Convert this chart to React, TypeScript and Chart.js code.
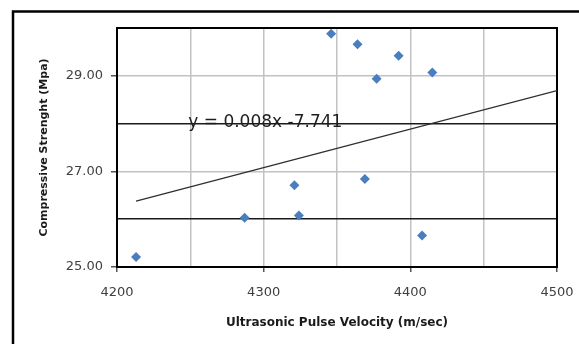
import React, { useEffect, useRef } from "react";
import { Chart, registerables } from "chart.js";

Chart.register(...registerables);

// Data
const velocity = [4213, 4287, 4324, 4321, 4369, 4408, 4346, 4364, 4392, 4377, 4415];
const strength = [25.21, 26.03, 26.08, 26.71, 26.84, 25.66, 29.88, 29.66, 29.42, 28.94, 29.07];
const trendX = [4213, 4500];
const trendY = [26.38, 28.69];
const equationText = "y = 0.008x -7.741";
const equationAt = { x: 4248.6, y: 27.93 };
const xTitle = "Ultrasonic Pulse Velocity (m/sec)";
const yTitle = "Compressive Strenght (Mpa)";
const darkGridValues = [26, 28];

const W = 579;
const H = 344;

const framePlugin = {
  id: "frame",
  beforeDraw(chart: any) {
    const ctx = chart.ctx;
    ctx.save();
    ctx.fillStyle = "#ffffff";
    ctx.fillRect(0, 0, chart.width, chart.height);
    ctx.strokeStyle = "#000000";
    ctx.lineWidth = 2.5;
    ctx.strokeRect(13, 11.5, chart.width + 40, chart.height + 40);
    ctx.restore();
  },
  beforeDatasetsDraw(chart: any) {
    const { ctx, chartArea } = chart;
    ctx.save();
    ctx.strokeStyle = "#000000";
    ctx.lineWidth = 2;
    ctx.strokeRect(chartArea.left, chartArea.top, chartArea.right - chartArea.left, chartArea.bottom - chartArea.top);
    ctx.restore();
  },
  afterDatasetsDraw(chart: any) {
    const { ctx, scales } = chart;
    const px = scales.x.getPixelForValue(equationAt.x);
    const py = scales.y.getPixelForValue(equationAt.y);
    ctx.save();
    ctx.font = "17px 'DejaVu Sans'";
    ctx.fillStyle = "#1e1e1e";
    ctx.textAlign = "left";
    ctx.textBaseline = "alphabetic";
    ctx.fillText(equationText, px, py);
    ctx.restore();
  },
};

export default function App() {
  const ref = useRef<HTMLCanvasElement | null>(null);

  useEffect(() => {
    if (!ref.current) return;
    const points = velocity.map((v, i) => ({ x: v, y: strength[i] }));
    const trend = trendX.map((v, i) => ({ x: v, y: trendY[i] }));
    const chart = new Chart(ref.current, {
      type: "scatter",
      data: {
        datasets: [
          {
            type: "line",
            data: trend,
            borderColor: "#2e2e2e",
            borderWidth: 1.3,
            pointRadius: 0,
            fill: false,
          } as any,
          {
            data: points,
            pointStyle: "rectRot",
            pointRadius: 5,
            pointHoverRadius: 5,
            backgroundColor: "#4a7ebf",
            borderColor: "#4a7ebf",
            borderWidth: 0,
          },
        ],
      },
      options: {
        responsive: false,
        animation: false,
        devicePixelRatio: 1,
        layout: { padding: { left: 0, top: 28, right: 22, bottom: 0 } },
        plugins: { legend: { display: false }, tooltip: { enabled: false } },
        scales: {
          x: {
            type: "linear",
            min: 4200,
            max: 4500,
            afterFit: (s: any) => {
              s.height = H - 267;
              s.paddingLeft = 0;
              s.paddingRight = 0;
              s.paddingTop = 0;
              s.paddingBottom = 0;
            },
            ticks: {
              stepSize: 50,
              padding: 13,
              font: { family: "'DejaVu Sans'", size: 13 },
              color: "#404040",
              maxRotation: 0,
              autoSkip: false,
              callback: (v: any) => (Number(v) % 100 === 0 ? String(v) : ""),
            },
            grid: {
              color: (c: any) => {
                const v = c.tick ? c.tick.value : 0;
                return v === 4200 || v === 4500 ? "rgba(0,0,0,0)" : "#c2c2c2";
              },
              lineWidth: 1.5,
              tickLength: 5,
              tickColor: (c: any) => {
                const v = c.tick ? c.tick.value : 0;
                return v % 100 === 0 ? "#555555" : "rgba(0,0,0,0)";
              },
            },
            border: { display: false },
            title: {
              display: true,
              text: xTitle,
              font: { family: "'DejaVu Sans'", size: 12, weight: "bold" },
              color: "#1a1a1a",
              padding: { top: 0, bottom: 14 },
            },
          },
          y: {
            type: "linear",
            min: 25,
            max: 30,
            afterFit: (s: any) => {
              s.width = 117;
              s.paddingLeft = 0;
              s.paddingRight = 0;
              s.paddingTop = 0;
              s.paddingBottom = 0;
            },
            ticks: {
              stepSize: 1,
              padding: 8,
              font: { family: "'DejaVu Sans'", size: 13 },
              color: "#404040",
              autoSkip: false,
              callback: (v: any) => (Number(v) % 2 === 1 ? Number(v).toFixed(2) : ""),
            },
            grid: {
              color: (c: any) => {
                const v = c.tick ? c.tick.value : 0;
                if (v === 25 || v === 30) return "rgba(0,0,0,0)";
                return darkGridValues.includes(v) ? "#1a1a1a" : "#c2c2c2";
              },
              lineWidth: 1.5,
              tickLength: 6,
              tickColor: (c: any) => {
                const v = c.tick ? c.tick.value : 0;
                return v % 2 === 1 ? "#555555" : "rgba(0,0,0,0)";
              },
            },
            border: { display: false },
            title: {
              display: true,
              text: yTitle,
              font: { family: "'DejaVu Sans'", size: 11, weight: "bold" },
              color: "#1a1a1a",
              padding: { top: 38, bottom: 0 },
            },
          },
        },
      },
      plugins: [framePlugin],
    });
    return () => chart.destroy();
  }, []);

  return (
    <div style={{ position: "fixed", left: 0, top: 0, width: W, height: H, background: "#fff" }}>
      <canvas ref={ref} width={W} height={H} style={{ display: "block", width: W, height: H }} />
    </div>
  );
}
